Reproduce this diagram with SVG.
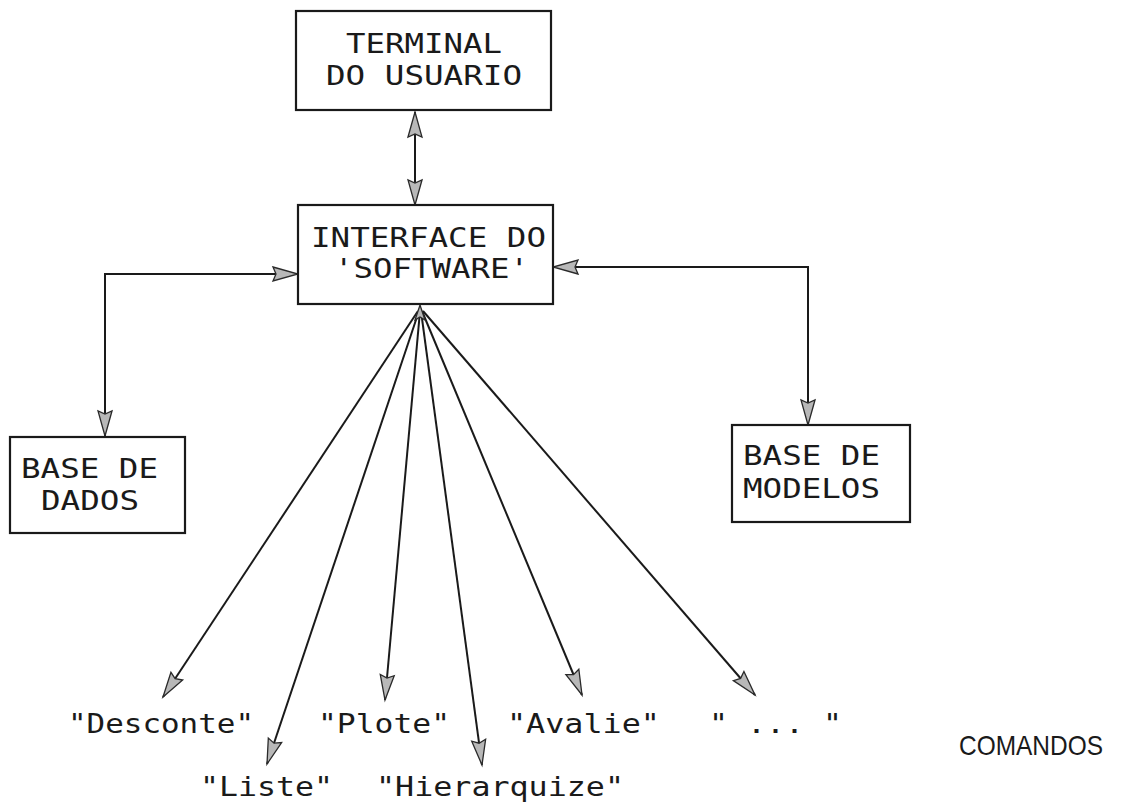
<svg xmlns="http://www.w3.org/2000/svg" width="1126" height="803" viewBox="0 0 1126 803">
  <style>
    .box { fill: #ffffff; stroke: #1a1a1a; stroke-width: 2.2; }
    .lbl { font-family: "DejaVu Sans Mono", "Liberation Mono", monospace; font-size: 27px; fill: #1a1a1a; }
    .cmd { font-family: "DejaVu Sans Mono", "Liberation Mono", monospace; font-size: 26px; fill: #1a1a1a; }
    .side { font-family: "Liberation Sans", Arial, sans-serif; font-size: 28px; fill: #1a1a1a; }
    .wire { fill: none; stroke: #1a1a1a; stroke-width: 2; }
    .head { fill: #b8b8b8; stroke: #2a2a2a; stroke-width: 1.3; }
  </style>
  <defs>
    <marker id="arrow" viewBox="0 0 25 16" refX="25" refY="8" markerWidth="25" markerHeight="16" markerUnits="userSpaceOnUse" orient="auto-start-reverse" overflow="visible">
      <path class="head" d="M0,1 L25,8 L0,15 L3,8 Z"/>
    </marker>
  </defs>

  <rect width="1126" height="803" fill="#ffffff"/>

  <!-- connectors -->
  <g id="connectors">
    <line class="wire" x1="415" y1="112" x2="415" y2="205" marker-start="url(#arrow)" marker-end="url(#arrow)"/>
    <path class="wire" d="M298,274 H105 V436" marker-start="url(#arrow)" marker-end="url(#arrow)"/>
    <path class="wire" d="M553,267 H808 V425" marker-start="url(#arrow)" marker-end="url(#arrow)"/>
    <!-- command fan from the interface -->
    <line class="wire" x1="418" y1="311" x2="163" y2="697" marker-end="url(#arrow)"/>
    <line class="wire" x1="419" y1="311" x2="267" y2="764" marker-end="url(#arrow)"/>
    <line class="wire" x1="420" y1="311" x2="385" y2="700" marker-end="url(#arrow)"/>
    <line class="wire" x1="421" y1="311" x2="482" y2="765" marker-end="url(#arrow)"/>
    <line class="wire" x1="422" y1="311" x2="582" y2="695" marker-end="url(#arrow)"/>
    <line class="wire" x1="423" y1="311" x2="755" y2="695" marker-end="url(#arrow)"/>
    <polygon class="head" points="420,305 425,320 420,317 415,320"/>
  </g>

  <g id="terminal">
    <rect class="box" x="296" y="11" width="255" height="99"/>
    <text class="lbl" x="346" y="53" textLength="156" lengthAdjust="spacingAndGlyphs">TERMINAL</text>
    <text class="lbl" x="326" y="85" textLength="196" lengthAdjust="spacingAndGlyphs">DO USUARIO</text>
  </g>

  <g id="interface">
    <rect class="box" x="298" y="205" width="255" height="99"/>
    <text class="lbl" x="311" y="247" textLength="235" lengthAdjust="spacingAndGlyphs">INTERFACE DO</text>
    <text class="lbl" x="334" y="278" textLength="195" lengthAdjust="spacingAndGlyphs">'SOFTWARE'</text>
  </g>

  <g id="base-dados">
    <rect class="box" x="10" y="437" width="175" height="96"/>
    <text class="lbl" x="21" y="478" textLength="137" lengthAdjust="spacingAndGlyphs">BASE DE</text>
    <text class="lbl" x="41" y="510" textLength="98" lengthAdjust="spacingAndGlyphs">DADOS</text>
  </g>

  <g id="base-modelos">
    <rect class="box" x="732" y="425" width="178" height="97"/>
    <text class="lbl" x="743" y="465" textLength="137" lengthAdjust="spacingAndGlyphs">BASE DE</text>
    <text class="lbl" x="743" y="498" textLength="137" lengthAdjust="spacingAndGlyphs">MODELOS</text>
  </g>

  <g id="commands">
    <text class="cmd" x="68" y="733" textLength="186" lengthAdjust="spacingAndGlyphs">"Desconte"</text>
    <text class="cmd" x="200" y="796" textLength="133" lengthAdjust="spacingAndGlyphs">"Liste"</text>
    <text class="cmd" x="318" y="733" textLength="132" lengthAdjust="spacingAndGlyphs">"Plote"</text>
    <text class="cmd" x="376" y="796" textLength="248" lengthAdjust="spacingAndGlyphs">"Hierarquize"</text>
    <text class="cmd" x="507" y="733" textLength="153" lengthAdjust="spacingAndGlyphs">"Avalie"</text>
    <text class="cmd" x="709" y="733" textLength="133" lengthAdjust="spacingAndGlyphs">" ... "</text>
    <text class="side" x="959" y="755" textLength="144" lengthAdjust="spacingAndGlyphs">COMANDOS</text>
  </g>
</svg>
